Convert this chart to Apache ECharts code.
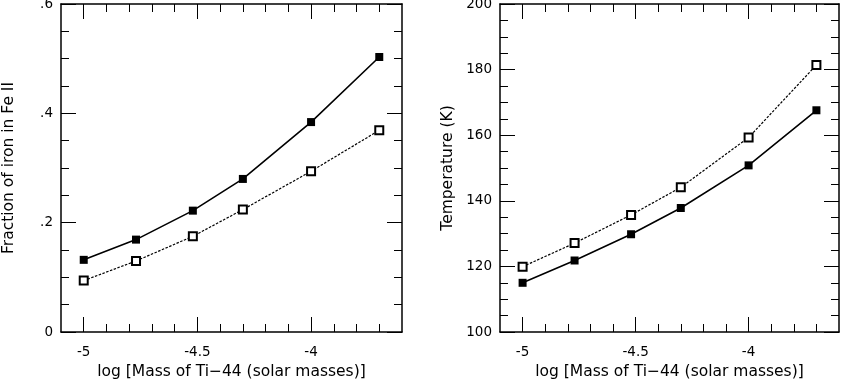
<!DOCTYPE html>
<html>
<head>
<meta charset="utf-8">
<script src="https://cdn.jsdelivr.net/npm/echarts@6/dist/echarts.min.js"></script>
<style>
  html, body, #main { width: 100%; height: 100%; margin: 0; background: #fff; }
</style>
</head>
<body>
<div id="main"></div>
<script>
// log of the Ti-44 mass, shared by both panels
var massLog = [-5, -4.77, -4.52, -4.3, -4, -3.7];
// left panel: fraction of iron in Fe II
var feFilled = [0.132, 0.169, 0.222, 0.280, 0.384, 0.503];
var feOpen = [0.094, 0.130, 0.175, 0.224, 0.294, 0.369];
// right panel: temperature (K)
var tempFilled = [115.0, 121.8, 129.8, 137.8, 150.8, 167.6];
var tempOpen = [119.9, 127.1, 135.7, 144.1, 159.3, 181.4];
// x ticks: labelled (long) and short ones
var xMajor = [-5, -4.5, -4];
var xMinor = [-5, -4.9, -4.8, -4.7, -4.6, -4.5, -4.4, -4.3, -4.2, -4.1, -4, -3.9, -3.8, -3.7];

var FONT = 'DejaVu Sans';
var xName = 'log [Mass of Ti\u221244 (solar masses)]';

function pairs(xs, ys) {
  var out = [];
  for (var i = 0; i < xs.length; i++) out.push([xs[i], ys[i]]);
  return out;
}

function xAxesFor(g) {
  var base = { type: 'value', gridIndex: g, min: -5.1, max: -3.6, splitLine: { show: false } };
  var list = [];
  ['bottom', 'top'].forEach(function (pos) {
    // short ticks every 0.1
    list.push(Object.assign({}, base, {
      position: pos,
      axisLine: { show: true, lineStyle: { color: '#000', width: 1.5 } },
      axisTick: { inside: true, length: 8, customValues: xMinor, lineStyle: { color: '#000', width: 1 } },
      axisLabel: pos == 'bottom' ? {
        customValues: xMajor, margin: 13, color: '#000', fontFamily: FONT, fontSize: 13.5,
        formatter: function (v) { return String(v); }
      } : { show: false },
      name: pos == 'bottom' ? xName : '',
      nameLocation: 'middle', nameGap: 32,
      nameTextStyle: { color: '#000', fontFamily: FONT, fontSize: 15.5 }
    }));
    // long ticks at the labelled values
    list.push(Object.assign({}, base, {
      position: pos,
      axisLine: { show: false },
      axisTick: { inside: true, length: 15, customValues: xMajor, lineStyle: { color: '#000', width: 1 } },
      axisLabel: { show: false }
    }));
  });
  return list;
}

function yAxesFor(g, min, max, step, name, fmt) {
  return ['left', 'right'].map(function (pos) {
    return {
      type: 'value', gridIndex: g, position: pos,
      min: min, max: max, interval: step,
      splitLine: { show: false },
      axisLine: { show: true, lineStyle: { color: '#000', width: 1.5 } },
      axisTick: { inside: true, length: 15, lineStyle: { color: '#000', width: 1 } },
      minorTick: { show: true, splitNumber: 4, length: 8, lineStyle: { color: '#000', width: 1 } },
      axisLabel: pos == 'left' ? { margin: 8, color: '#000', fontFamily: FONT, fontSize: 13.5, formatter: fmt } : { show: false },
      name: pos == 'left' ? name : '',
      nameLocation: 'middle', nameGap: 44,
      nameTextStyle: { color: '#000', fontFamily: FONT, fontSize: 15.5 }
    };
  });
}

function filledLine(xi, yi, ys) {
  return {
    type: 'line', xAxisIndex: xi, yAxisIndex: yi, data: pairs(massLog, ys),
    symbol: 'rect', symbolSize: 8,
    itemStyle: { color: '#000' },
    lineStyle: { color: '#000', width: 1.6 },
    z: 3
  };
}

function openLine(xi, yi, ys) {
  return {
    type: 'line', xAxisIndex: xi, yAxisIndex: yi, data: pairs(massLog, ys),
    symbol: 'emptyRect', symbolSize: 8,
    itemStyle: { color: '#000', borderWidth: 1.3 },
    lineStyle: { color: '#000', width: 1.2, type: [2.5, 1.5] },
    z: 2
  };
}

var chart = echarts.init(document.getElementById('main'));
chart.setOption({
  animation: false,
  grid: [
    { left: 61, top: 4, width: 341, height: 328, outerBoundsMode: 'none' },
    { left: 500, top: 4, width: 339, height: 328, outerBoundsMode: 'none' }
  ],
  xAxis: xAxesFor(0).concat(xAxesFor(1)),
  yAxis: yAxesFor(0, 0, 0.6, 0.2, 'Fraction of iron in Fe II', function (v) {
    return v === 0 ? '0' : String(+v.toFixed(1)).replace('0.', '.');
  }).concat(yAxesFor(1, 100, 200, 20, 'Temperature (K)', function (v) { return String(v); })),
  series: [
    filledLine(0, 0, feFilled),
    openLine(0, 0, feOpen),
    filledLine(4, 2, tempFilled),
    openLine(4, 2, tempOpen)
  ]
});
window.onresize = chart.resize;
</script>
</body>
</html>
